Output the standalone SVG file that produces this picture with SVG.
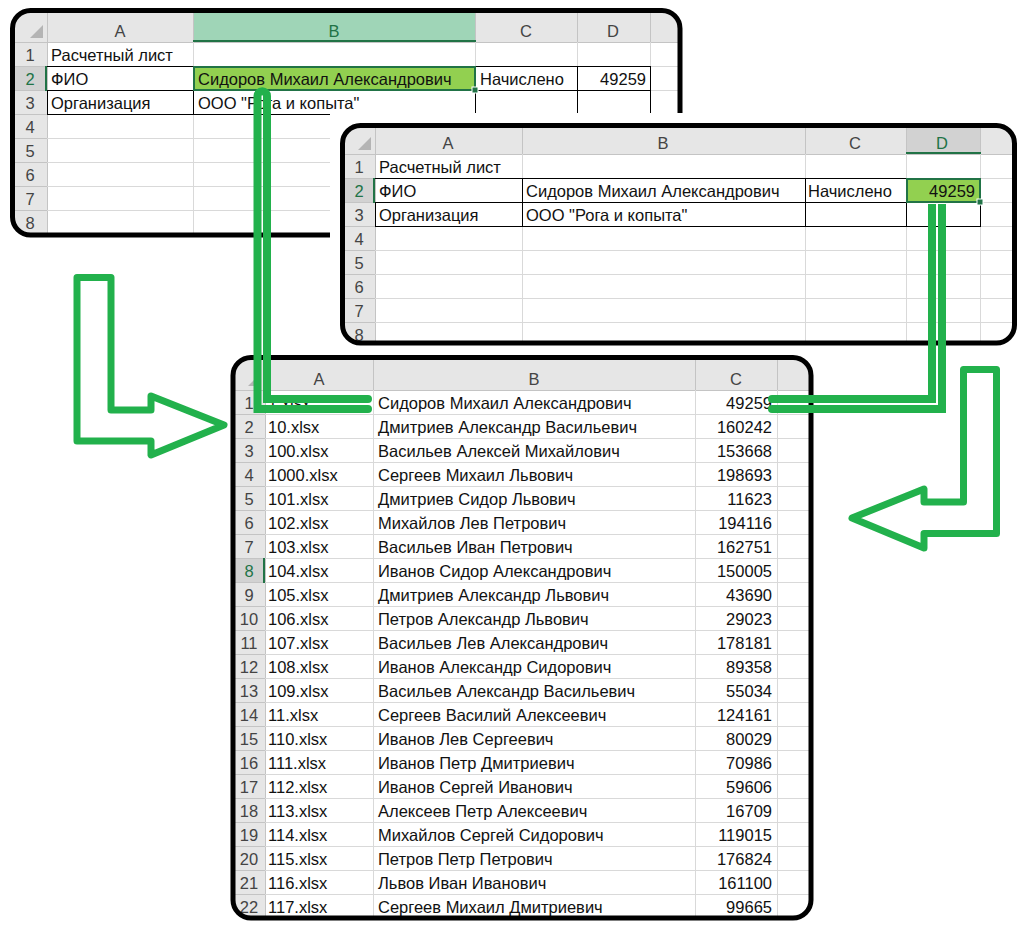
<svg xmlns="http://www.w3.org/2000/svg" width="1029" height="931" viewBox="0 0 1029 931">
<defs>
<style>
text{font-family:"Liberation Sans",Arial,sans-serif;font-size:16.5px;fill:#111}
.h{fill:#444;text-anchor:middle}
.n{text-anchor:end}
.sel{fill:#217346}
.hb{fill:#e6e6e6}
.hs{fill:none;stroke:#c4c4c4;stroke-width:1}
.gr{fill:none;stroke:#d9d9d9;stroke-width:1}
.bd{fill:none;stroke:#000;stroke-width:1}
.frame{fill:none;stroke:#000;stroke-width:5}
.arrow{fill:none;stroke:#22b14c;stroke-width:7;stroke-linejoin:round;stroke-linecap:round}
.link{fill:none;stroke:#22b14c;stroke-width:8;stroke-linejoin:miter}
.tri{fill:#b4b4b4}
</style>
<clipPath id="c1"><rect x="12.5" y="10.5" width="667.5" height="224.5" rx="18"/></clipPath>
<clipPath id="c2"><rect x="342.5" y="125.5" width="672" height="217.5" rx="18"/></clipPath>
<clipPath id="c3"><rect x="233" y="357.5" width="578" height="560.5" rx="18"/></clipPath>
</defs>
<rect width="1029" height="931" fill="#fff"/>

<g id="sheet1">
<g clip-path="url(#c1)">
<rect x="0" y="0" width="700" height="250" fill="#fff"/>
<rect class="hb" x="0" y="0" width="700" height="42"/>
<rect class="hb" x="0" y="0" width="47" height="250"/>
<rect x="193.5" y="0" width="282" height="42" fill="#9fd5b7"/>
<rect x="0" y="66.5" width="47" height="24" fill="#d2d2d2"/>
<polygon class="tri" points="43,38 43,25 30,38"/>
<path class="hs" d="M47.5,0V250M193.5,0V42M475.5,0V42M577.5,0V42M650.5,0V42M0,42.5H700M0,66.5H47M0,90.5H47M0,114.5H47M0,138.5H47M0,162.5H47M0,186.5H47M0,210.5H47M0,234.5H47"/>
<path class="gr" d="M47,66.5H700M47,90.5H700M47,114.5H700M47,138.5H700M47,162.5H700M47,186.5H700M47,210.5H700M47,234.5H700M193.5,42V250M475.5,42V250M577.5,42V250M650.5,42V250"/>
<path class="bd" d="M47,66.5H651M47,90.5H651M47,114.5H651M193.5,66V115M475.5,66V115M577.5,66V115M650.5,66V115M47.5,90V115"/>
<line x1="193" y1="41" x2="476" y2="41" stroke="#217346" stroke-width="2"/>
<line x1="46" y1="66" x2="46" y2="91" stroke="#217346" stroke-width="2"/>
<rect x="194" y="67" width="281" height="23" fill="#92d050" stroke="#217346" stroke-width="2"/>
<rect x="472" y="87" width="6" height="6" fill="#217346" stroke="#fff" stroke-width="1"/>
<text class="h" x="120" y="37">A</text>
<text class="h sel" x="334" y="37">B</text>
<text class="h" x="526" y="37">C</text>
<text class="h" x="613" y="37">D</text>
<text class="h" x="30" y="61">1</text>
<text class="h sel" x="30" y="85">2</text>
<text class="h" x="30" y="109">3</text>
<text class="h" x="30" y="133">4</text>
<text class="h" x="30" y="157">5</text>
<text class="h" x="30" y="181">6</text>
<text class="h" x="30" y="205">7</text>
<text class="h" x="30" y="229">8</text>
<text x="51" y="61">Расчетный лист</text>
<text x="51" y="85">ФИО</text>
<text x="51" y="109">Организация</text>
<text x="198" y="85">Сидоров Михаил Александрович</text>
<text x="198" y="109">ООО "Рога и копыта"</text>
<text x="480" y="85">Начислено</text>
<text class="n" x="646" y="85">49259</text>
</g>
<rect class="frame" x="12.5" y="10.5" width="667.5" height="224.5" rx="18"/>
</g>

<g id="sheet2">
<rect x="330" y="113" width="699" height="240" fill="#fff"/>
<g clip-path="url(#c2)">
<rect x="330" y="120" width="700" height="240" fill="#fff"/>
<rect class="hb" x="330" y="120" width="700" height="34"/>
<rect class="hb" x="330" y="120" width="45" height="240"/>
<rect x="906.5" y="120" width="74" height="34" fill="#d2d2d2"/>
<rect x="330" y="178.5" width="45" height="24" fill="#d2d2d2"/>
<polygon class="tri" points="371,150 371,137 358,150"/>
<path class="hs" d="M375.5,120V360M522.5,120V154M805.5,120V154M906.5,120V154M980.5,120V154M330,154.5H1030M330,178.5H375M330,202.5H375M330,226.5H375M330,250.5H375M330,274.5H375M330,298.5H375M330,322.5H375"/>
<path class="gr" d="M375,178.5H1030M375,202.5H1030M375,226.5H1030M375,250.5H1030M375,274.5H1030M375,298.5H1030M375,322.5H1030M522.5,154V360M805.5,154V360M906.5,154V360M980.5,154V360"/>
<path class="bd" d="M375,178.5H981M375,202.5H981M375,226.5H981M522.5,178V227M805.5,178V227M906.5,178V227M980.5,178V227M375.5,202V227"/>
<line x1="906" y1="153" x2="981" y2="153" stroke="#217346" stroke-width="2"/>
<line x1="374" y1="178" x2="374" y2="203" stroke="#217346" stroke-width="2"/>
<rect x="907" y="179" width="73" height="23" fill="#92d050" stroke="#217346" stroke-width="2"/>
<rect x="977" y="199" width="6" height="6" fill="#217346" stroke="#fff" stroke-width="1"/>
<text class="h" x="448" y="149">A</text>
<text class="h" x="663" y="149">B</text>
<text class="h" x="855" y="149">C</text>
<text class="h sel" x="942" y="149">D</text>
<text class="h" x="359" y="173">1</text>
<text class="h sel" x="359" y="197">2</text>
<text class="h" x="359" y="221">3</text>
<text class="h" x="359" y="245">4</text>
<text class="h" x="359" y="269">5</text>
<text class="h" x="359" y="293">6</text>
<text class="h" x="359" y="317">7</text>
<text class="h" x="359" y="341">8</text>
<text x="379" y="173">Расчетный лист</text>
<text x="379" y="197">ФИО</text>
<text x="379" y="221">Организация</text>
<text x="526" y="197">Сидоров Михаил Александрович</text>
<text x="526" y="221">ООО "Рога и копыта"</text>
<text x="808" y="197">Начислено</text>
<text class="n" x="975" y="197">49259</text>
</g>
<rect class="frame" x="342.5" y="125.5" width="672" height="217.5" rx="18"/>
</g>

<g id="sheet3">
<g clip-path="url(#c3)">
<rect x="220" y="350" width="600" height="580" fill="#fff"/>
<rect class="hb" x="220" y="350" width="600" height="40"/>
<rect class="hb" x="220" y="350" width="45" height="580"/>
<rect x="220" y="558.5" width="45" height="24" fill="#d2d2d2"/>
<polygon class="tri" points="261,386 261,373 248,386"/>
<path class="hs" d="M265.5,350V930M373.5,350V390M695.5,350V390M777.5,350V390M220,390.5H820M220,414.5H265M220,438.5H265M220,462.5H265M220,486.5H265M220,510.5H265M220,534.5H265M220,558.5H265M220,582.5H265M220,606.5H265M220,630.5H265M220,654.5H265M220,678.5H265M220,702.5H265M220,726.5H265M220,750.5H265M220,774.5H265M220,798.5H265M220,822.5H265M220,846.5H265M220,870.5H265M220,894.5H265"/>
<path class="gr" d="M265,414.5H820M265,438.5H820M265,462.5H820M265,486.5H820M265,510.5H820M265,534.5H820M265,558.5H820M265,582.5H820M265,606.5H820M265,630.5H820M265,654.5H820M265,678.5H820M265,702.5H820M265,726.5H820M265,750.5H820M265,774.5H820M265,798.5H820M265,822.5H820M265,846.5H820M265,870.5H820M265,894.5H820M373.5,390V930M695.5,390V930M777.5,390V930"/>
<line x1="264" y1="558" x2="264" y2="583" stroke="#217346" stroke-width="2"/>
<text class="h" x="319" y="385">A</text>
<text class="h" x="534" y="385">B</text>
<text class="h" x="736" y="385">C</text>
<text class="h" x="249" y="409">1</text>
<text class="h" x="249" y="433">2</text>
<text class="h" x="249" y="457">3</text>
<text class="h" x="249" y="481">4</text>
<text class="h" x="249" y="505">5</text>
<text class="h" x="249" y="529">6</text>
<text class="h" x="249" y="553">7</text>
<text class="h sel" x="249" y="577">8</text>
<text class="h" x="249" y="601">9</text>
<text class="h" x="249" y="625">10</text>
<text class="h" x="249" y="649">11</text>
<text class="h" x="249" y="673">12</text>
<text class="h" x="249" y="697">13</text>
<text class="h" x="249" y="721">14</text>
<text class="h" x="249" y="745">15</text>
<text class="h" x="249" y="769">16</text>
<text class="h" x="249" y="793">17</text>
<text class="h" x="249" y="817">18</text>
<text class="h" x="249" y="841">19</text>
<text class="h" x="249" y="865">20</text>
<text class="h" x="249" y="889">21</text>
<text class="h" x="249" y="913">22</text>
<text x="268" y="409">1.xlsx</text>
<text x="268" y="433">10.xlsx</text>
<text x="268" y="457">100.xlsx</text>
<text x="268" y="481">1000.xlsx</text>
<text x="268" y="505">101.xlsx</text>
<text x="268" y="529">102.xlsx</text>
<text x="268" y="553">103.xlsx</text>
<text x="268" y="577">104.xlsx</text>
<text x="268" y="601">105.xlsx</text>
<text x="268" y="625">106.xlsx</text>
<text x="268" y="649">107.xlsx</text>
<text x="268" y="673">108.xlsx</text>
<text x="268" y="697">109.xlsx</text>
<text x="268" y="721">11.xlsx</text>
<text x="268" y="745">110.xlsx</text>
<text x="268" y="769">111.xlsx</text>
<text x="268" y="793">112.xlsx</text>
<text x="268" y="817">113.xlsx</text>
<text x="268" y="841">114.xlsx</text>
<text x="268" y="865">115.xlsx</text>
<text x="268" y="889">116.xlsx</text>
<text x="268" y="913">117.xlsx</text>
<text x="378" y="409">Сидоров Михаил Александрович</text>
<text x="378" y="433">Дмитриев Александр Васильевич</text>
<text x="378" y="457">Васильев Алексей Михайлович</text>
<text x="378" y="481">Сергеев Михаил Львович</text>
<text x="378" y="505">Дмитриев Сидор Львович</text>
<text x="378" y="529">Михайлов Лев Петрович</text>
<text x="378" y="553">Васильев Иван Петрович</text>
<text x="378" y="577">Иванов Сидор Александрович</text>
<text x="378" y="601">Дмитриев Александр Львович</text>
<text x="378" y="625">Петров Александр Львович</text>
<text x="378" y="649">Васильев Лев Александрович</text>
<text x="378" y="673">Иванов Александр Сидорович</text>
<text x="378" y="697">Васильев Александр Васильевич</text>
<text x="378" y="721">Сергеев Василий Алексеевич</text>
<text x="378" y="745">Иванов Лев Сергеевич</text>
<text x="378" y="769">Иванов Петр Дмитриевич</text>
<text x="378" y="793">Иванов Сергей Иванович</text>
<text x="378" y="817">Алексеев Петр Алексеевич</text>
<text x="378" y="841">Михайлов Сергей Сидорович</text>
<text x="378" y="865">Петров Петр Петрович</text>
<text x="378" y="889">Львов Иван Иванович</text>
<text x="378" y="913">Сергеев Михаил Дмитриевич</text>
<text class="n" x="772" y="409">49259</text>
<text class="n" x="772" y="433">160242</text>
<text class="n" x="772" y="457">153668</text>
<text class="n" x="772" y="481">198693</text>
<text class="n" x="772" y="505">11623</text>
<text class="n" x="772" y="529">194116</text>
<text class="n" x="772" y="553">162751</text>
<text class="n" x="772" y="577">150005</text>
<text class="n" x="772" y="601">43690</text>
<text class="n" x="772" y="625">29023</text>
<text class="n" x="772" y="649">178181</text>
<text class="n" x="772" y="673">89358</text>
<text class="n" x="772" y="697">55034</text>
<text class="n" x="772" y="721">124161</text>
<text class="n" x="772" y="745">80029</text>
<text class="n" x="772" y="769">70986</text>
<text class="n" x="772" y="793">59606</text>
<text class="n" x="772" y="817">16709</text>
<text class="n" x="772" y="841">119015</text>
<text class="n" x="772" y="865">176824</text>
<text class="n" x="772" y="889">161100</text>
<text class="n" x="772" y="913">99665</text>
</g>
<rect class="frame" x="233" y="357.5" width="578" height="560.5" rx="18"/>
</g>

<g id="connectors">
<path class="arrow" d="M77,277.5H111V410H151V396L224,425L151,455V441H77Z"/>
<path class="arrow" d="M963.5,369.5H996.5V533.5H924V548L852,518L924,489V502H963.5Z"/>
<path class="link" stroke-linecap="round" d="M368,409H257.5V96A4.75,4.75 0 0 1 267,96V399H368"/>
<path class="link" stroke-linecap="butt" d="M932,204V399H772"/>
<path class="link" stroke-linecap="butt" d="M942,204V409H772"/>
<circle cx="772" cy="399" r="4" fill="#22b14c"/>
<circle cx="772" cy="409" r="4" fill="#22b14c"/>
</g>
</svg>
